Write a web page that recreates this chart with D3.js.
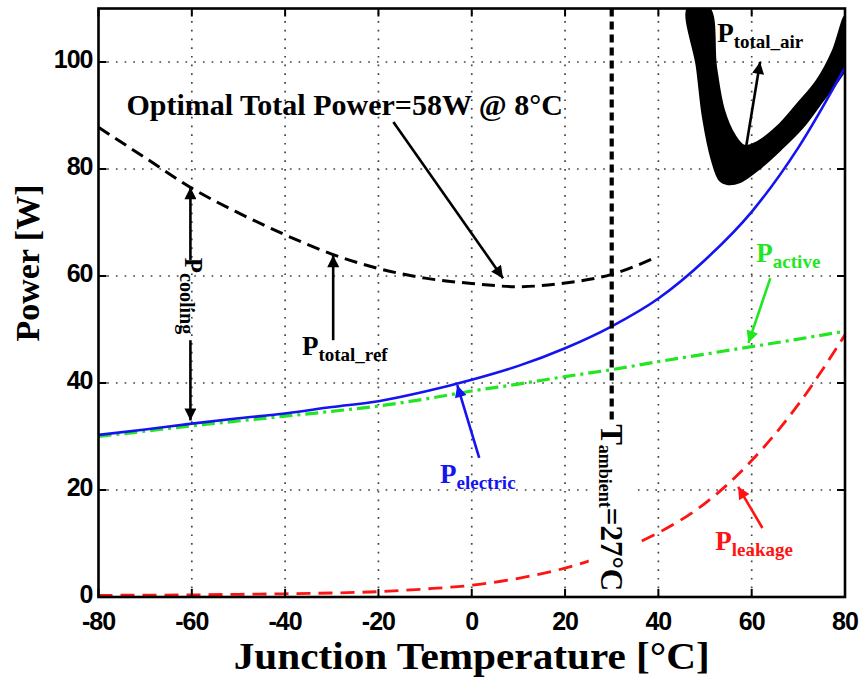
<!DOCTYPE html>
<html><head><meta charset="utf-8">
<script src="https://cdn.jsdelivr.net/npm/d3@7"></script>
<style>body{margin:0;background:#fff}</style>
</head><body><svg id="c" width="863" height="679"></svg>
<script>
// ---- data ----
const temps      = [-80,-70,-60,-50,-40,-30,-20,-10,0,10,20,30,40,50,60,70,80];
const pActive    = [30.0,31.0,32.0,32.9,33.8,34.7,35.7,37.0,38.5,39.8,41.2,42.5,44.0,45.4,46.8,48.2,49.7];
const pElectric  = [30.3,31.3,32.4,33.4,34.3,35.5,36.6,38.4,40.6,43.2,46.5,50.6,55.8,63.0,72.0,84.0,99.0];
const pLeakage   = [0.3,0.35,0.4,0.5,0.6,0.75,1.0,1.5,2.2,3.5,5.4,8.2,12.0,17.5,25.5,36.0,49.0];
const refTemps   = [-80,-70,-60,-50,-40,-30,-20,-10,0,10,20,30,39];
const pTotalRef  = [87.8,82.1,76.4,71.8,67.7,64.1,61.4,59.6,58.6,58.0,58.7,60.3,63.3];
const airLowerT  = [46.4,48.3,49.6,51.5,53.2,54.9,57.5,61.2,66.1,71.0,75.3,79.0,80.0];
const airLowerP  = [110.1,99.1,89.7,81.7,77.9,77.2,77.6,79.8,83.6,87.9,92.9,97.2,98.9];
const airUpperT  = [50.8,52.3,54.0,56.3,58.4,61.2,65.4,69.7,74.0,77.4,80.0];
const airUpperP  = [110.1,99.1,91.0,86.3,84.3,85.0,87.8,92.0,96.5,102.0,108.5];
const xTicks     = [-80,-60,-40,-20,0,20,40,60,80];
const yTicks     = [0,20,40,60,80,100];
const tAmbient   = 30;

const svg = d3.select("#c");
const L=98.5, R=845, T=8.5, B=597;
const x = d3.scaleLinear().domain([-80,80]).range([L,R]);
const y = d3.scaleLinear().domain([0,110]).range([B,T]);
const serif = "'Liberation Serif','Times New Roman',serif";
const sans = "'Liberation Sans',Arial,sans-serif";

svg.append("defs").append("clipPath").attr("id","clip")
  .append("rect").attr("x",L).attr("y",T).attr("width",R-L).attr("height",B-T);

// grid
const grid = svg.append("g").attr("stroke","#444").attr("stroke-width",1.7).attr("stroke-dasharray","1.7,7");
xTicks.slice(1,-1).forEach(v=>grid.append("line").attr("x1",x(v)).attr("x2",x(v)).attr("y1",B).attr("y2",T));
yTicks.slice(1).forEach(v=>grid.append("line").attr("x1",L).attr("x2",R).attr("y1",y(v)).attr("y2",y(v)));

const plot = svg.append("g").attr("clip-path","url(#clip)");
const line = (xs,ys,curve)=>d3.line().x((d,i)=>x(xs[i])).y((d,i)=>y(ys[i])).curve(curve||d3.curveMonotoneX)(xs);

// total_air band
const airPts = airLowerT.map((t,i)=>[t,airLowerP[i]]).concat(airUpperT.map((t,i)=>[t,airUpperP[i]]).reverse());
plot.append("path").attr("d", d3.line().x(d=>x(d[0])).y(d=>y(d[1])).curve(d3.curveCatmullRomClosed)(airPts))
  .attr("fill","#000").attr("stroke","#000").attr("stroke-width",2.5);

// leakage
plot.append("path").attr("d",line(temps,pLeakage)).attr("fill","none").attr("stroke","#ff1414")
  .attr("stroke-width",2.8).attr("stroke-dasharray","14,8");
// active
plot.append("path").attr("d",line(temps,pActive)).attr("fill","none").attr("stroke","#22e622")
  .attr("stroke-width",3.2).attr("stroke-dasharray","13,5,3,5");
// electric
plot.append("path").attr("d",line(temps,pElectric)).attr("fill","none").attr("stroke","#1414f0")
  .attr("stroke-width",2.6);
// total ref
plot.append("path").attr("d",line(refTemps,pTotalRef)).attr("fill","none").attr("stroke","#000")
  .attr("stroke-width",3).attr("stroke-dasharray","13,7");

// T ambient line
plot.append("line").attr("x1",x(tAmbient)).attr("x2",x(tAmbient)).attr("y1",T).attr("y2",B)
  .attr("stroke","#000").attr("stroke-width",4.2).attr("stroke-dasharray","8,5");

// T ambient label with white background
const tLab = {p:32.5};
svg.append("rect").attr("x",x(tAmbient)-23).attr("y",y(tLab.p)-3).attr("width",47).attr("height",B-1-(y(tLab.p)-3))
  .attr("fill","#fff");
const tg = svg.append("text").attr("transform",`translate(${x(tAmbient)-11},${y(tLab.p)+1}) rotate(90)`)
  .attr("font-family",serif).attr("font-weight","bold").attr("font-size",31).attr("fill","#000");
tg.append("tspan").text("T");
tg.append("tspan").attr("font-size",18).attr("dy",2).text("ambient");
tg.append("tspan").attr("dy",-2).text("=27°C");

// frame + ticks
const ax = svg.append("g").attr("stroke","#000");
xTicks.forEach(v=>{
  ax.append("line").attr("x1",x(v)).attr("x2",x(v)).attr("y1",B).attr("y2",B-8).attr("stroke-width",2);
  ax.append("line").attr("x1",x(v)).attr("x2",x(v)).attr("y1",T).attr("y2",T+8).attr("stroke-width",2);
});
yTicks.forEach(v=>{
  ax.append("line").attr("x1",L).attr("x2",L+8).attr("y1",y(v)).attr("y2",y(v)).attr("stroke-width",2);
  ax.append("line").attr("x1",R).attr("x2",R-8).attr("y1",y(v)).attr("y2",y(v)).attr("stroke-width",2);
});
svg.append("rect").attr("x",L).attr("y",T).attr("width",R-L).attr("height",B-T)
  .attr("fill","none").attr("stroke","#000").attr("stroke-width",2.6);

// tick labels
svg.append("g").selectAll("text").data(xTicks).join("text")
  .attr("x",d=>x(d)).attr("y",B+33).attr("text-anchor","middle")
  .attr("font-family",sans).attr("font-weight","bold").attr("font-size",25).attr("letter-spacing",-1).text(d=>d);
svg.append("g").selectAll("text").data(yTicks).join("text")
  .attr("x",L-6).attr("y",d=>y(d)+6).attr("text-anchor","end")
  .attr("font-family",sans).attr("font-weight","bold").attr("font-size",25).attr("letter-spacing",-1).text(d=>d);

// axis titles
svg.append("text").attr("x",(L+R)/2).attr("y",669).attr("text-anchor","middle")
  .attr("font-family",serif).attr("font-weight","bold").attr("font-size",38)
  .attr("textLength",476).attr("lengthAdjust","spacingAndGlyphs").text("Junction Temperature [°C]");
svg.append("text").attr("transform",`translate(39,263) rotate(-90)`).attr("text-anchor","middle")
  .attr("font-family",serif).attr("font-weight","bold").attr("font-size",34).text("Power [W]");

// arrows
const defs = svg.select("defs");
function marker(id,color){
  defs.append("marker").attr("id",id).attr("viewBox","0 0 10 10").attr("refX",10).attr("refY",5)
    .attr("markerWidth",16).attr("markerHeight",12).attr("markerUnits","userSpaceOnUse").attr("orient","auto")
    .append("path").attr("d","M0,0 L10,5 L0,10 Z").attr("fill",color);
}
marker("mk","#000"); marker("mb","#1414f0"); marker("mg","#22e622"); marker("mr","#ff1414");
const arrows = [
  {a:[-16.8,88.8], b:[6.7,59.6], m:"mk", c:"#000"},
  {a:[-29.7,48.0], b:[-29.7,63.9], m:"mk", c:"#000"},
  {a:[-60.3,63.0], b:[-60.3,76.6], m:"mk", c:"#000"},
  {a:[-60.3,48.0], b:[-60.3,33.0], m:"mk", c:"#000"},
  {a:[1.6,26.0], b:[-3.1,39.6], m:"mb", c:"#1414f0"},
  {a:[64.0,59.6], b:[59.3,47.5], m:"mg", c:"#22e622"},
  {a:[62.3,12.9], b:[57.1,20.6], m:"mr", c:"#ff1414"},
  {a:[58.8,84.1], b:[61.8,100.0], m:"mk", c:"#000"}
];
arrows.forEach(d=>{
  svg.append("line").attr("x1",x(d.a[0])).attr("y1",y(d.a[1])).attr("x2",x(d.b[0])).attr("y2",y(d.b[1]))
    .attr("stroke",d.c).attr("stroke-width",2.6).attr("marker-end",`url(#${d.m})`);
});

// labels
svg.append("text").attr("x",x(-74)).attr("y",y(90.1)).attr("font-family",serif).attr("font-weight","bold")
  .attr("font-size",30).text("Optimal Total Power=58W @ 8°C");
function plabel(t,p,sub,color){
  const g = svg.append("text").attr("x",x(t)).attr("y",y(p)).attr("font-family",serif).attr("font-weight","bold")
    .attr("font-size",27).attr("fill",color);
  g.append("tspan").text("P");
  g.append("tspan").attr("font-size",19).attr("dy",6).text(sub);
}
plabel(52.6,103.7,"total_air","#000");
plabel(-36.4,45.2,"total_ref","#000");
plabel(-6.8,21.3,"electric","#1414f0");
plabel(61.0,62.6,"active","#22e622");
plabel(52.2,8.8,"leakage","#ff1414");
// P cooling rotated
const cg = svg.append("text").attr("transform",`translate(${x(-61.5)},${y(63.4)}) rotate(90)`)
  .attr("font-family",serif).attr("font-weight","bold").attr("font-size",25).attr("fill","#000");
cg.append("tspan").text("P");
cg.append("tspan").attr("font-size",20).attr("dy",5).text("cooling");
</script></body></html>
